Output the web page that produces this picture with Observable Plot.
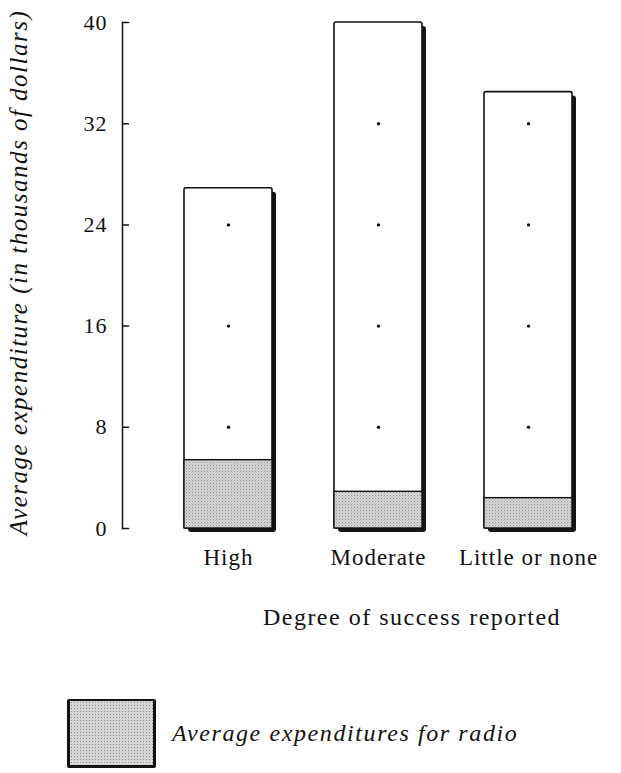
<!DOCTYPE html>
<html><head><meta charset="utf-8">
<script src="https://cdn.jsdelivr.net/npm/d3@7"></script>
<script src="https://cdn.jsdelivr.net/npm/@observablehq/plot@0.6"></script>
<style>
body{margin:0;background:#fff;font-family:"Liberation Serif",serif;color:#111;}
#chart svg text{letter-spacing:1px;}
#chart svg g[aria-label="text"] text{letter-spacing:1.5px;}
.legend{display:flex;align-items:center;margin-left:67px;margin-top:19px;}
.swatch{width:83px;height:64px;border:3px solid #111;border-top-width:2px;border-radius:2px;
 background-color:#d6d6d6;background-image:radial-gradient(#8a8a8a 0.7px, transparent 0.9px);background-size:3px 3px;}
.legend span{font-style:italic;font-size:24px;letter-spacing:1.6px;margin-left:16px;}
</style></head>
<body>
<div id="chart"></div>
<div class="legend"><div class="swatch"></div><span>Average expenditures for radio</span></div>
<script>
const categories = ["High", "Moderate", "Little or none"];
const totalExpenditure = [26.9, 40, 34.5];
const radioExpenditure = [5.4, 2.9, 2.4];
const yTicks = [0, 8, 16, 24, 32, 40];
const xTitle = "Degree of success reported";
const yTitle = "Average expenditure (in thousands of dollars)";

const data = categories.map((c, i) => ({cat: c, total: totalExpenditure[i], radio: radioExpenditure[i]}));
const dots = data.flatMap(d => yTicks.filter(t => t > d.radio && t < d.total).map(t => ({cat: d.cat, v: t})));

const tickShape = {draw(ctx, l) { ctx.moveTo(0, 0); ctx.lineTo(0, -l); }};

const plot = Plot.plot({
  width: 621, height: 680,
  marginLeft: 122, marginTop: 22, marginBottom: 152, marginRight: 0,
  style: {fontFamily: "Liberation Serif", fontSize: "22px", background: "white", color: "#111"},
  x: {domain: categories, range: [122, 634], paddingInner: 0.413, paddingOuter: 0.413, align: 0.5},
  y: {domain: [0, 40], ticks: yTicks},
  marks: [
    Plot.barY(data, {x: "cat", y: "total", fill: "#151515", dx: 4, dy: 4, rx: 3}),
    Plot.barY(data, {x: "cat", y: "total", fill: "white", stroke: "#111", strokeWidth: 1.6, rx: 2}),
    Plot.barY(data, {x: "cat", y: "radio", fill: "url(#stipple)", stroke: "#111", strokeWidth: 1.4}),
    Plot.dot(dots, {x: "cat", y: "v", r: 1.7, fill: "#111", stroke: "none"}),
    Plot.frame({anchor: "left", stroke: "#111", strokeWidth: 1.5}),
    Plot.vector(yTicks, {y: d => d, frameAnchor: "left", rotate: 90, length: 6, anchor: "start", stroke: "#111", strokeWidth: 1.5, shape: tickShape}),
    Plot.axisY({ticks: yTicks, tickSize: 0, tickPadding: 15, tickFormat: d => String(d), label: null, fontSize: 22}),
    Plot.axisX({tickSize: 0, tickPadding: 20, label: null, fontSize: 23}),
    Plot.text([xTitle], {frameAnchor: "bottom", dx: 40, dy: 96, fontSize: 24, fill: "#111"}),
    Plot.text([yTitle], {frameAnchor: "left", textAnchor: "middle", rotate: -90, dx: -104, dy: -3, fontSize: 25, fontStyle: "italic", fill: "#111"})
  ]
});

const svg = d3.select(plot);
const defs = svg.insert("defs", ":first-child");
const pat = defs.append("pattern").attr("id", "stipple").attr("patternUnits", "userSpaceOnUse").attr("width", 3).attr("height", 3);
pat.append("rect").attr("width", 3).attr("height", 3).attr("fill", "#d6d6d6");
pat.append("rect").attr("x", 0).attr("y", 0).attr("width", 1).attr("height", 1).attr("fill", "#8f8f8f");
pat.append("rect").attr("x", 1.5).attr("y", 1.5).attr("width", 1).attr("height", 1).attr("fill", "#b0b0b0");
document.getElementById("chart").appendChild(plot);
</script>
</body></html>
